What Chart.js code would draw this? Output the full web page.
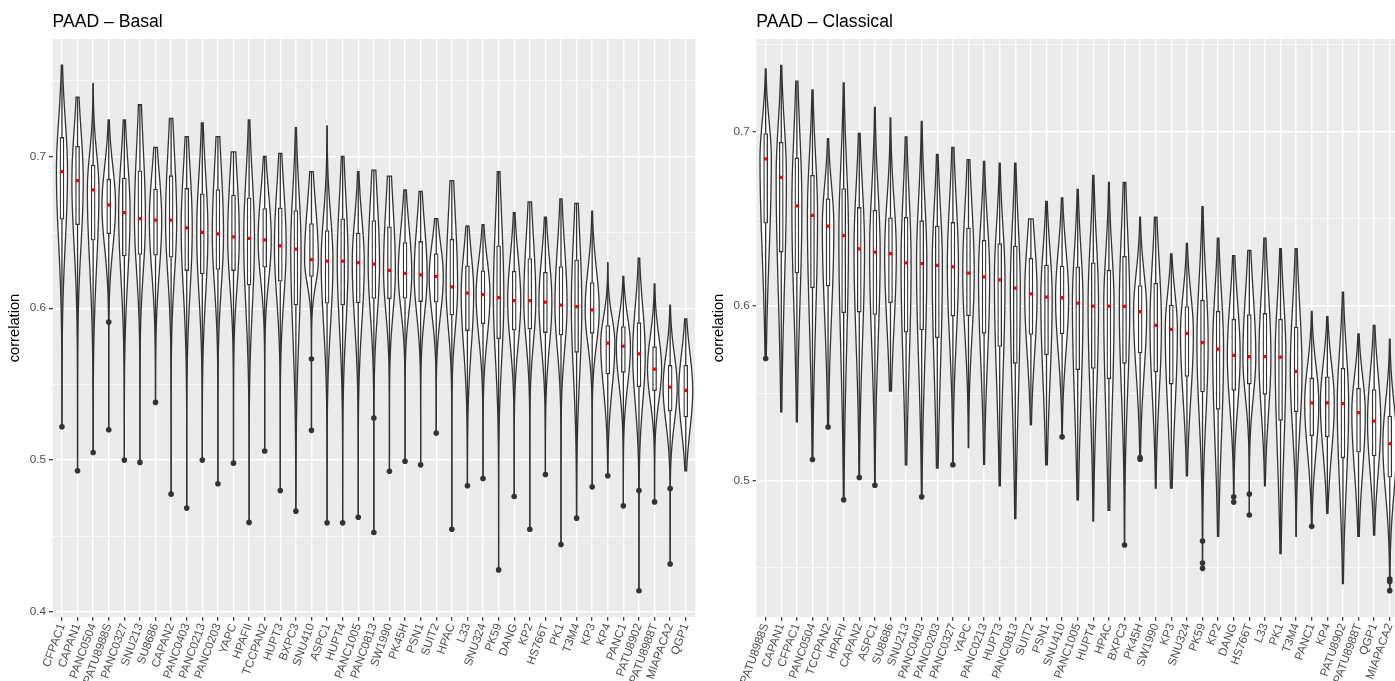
<!DOCTYPE html>
<html>
<head>
<meta charset="utf-8">
<script src="https://cdn.jsdelivr.net/npm/chart.js@4.4.1/dist/chart.umd.min.js"></script>
<style>
  html, body { margin: 0; padding: 0; background: #fff; width: 1395px; height: 681px; overflow: hidden; position: relative; }
  canvas { position: absolute; top: 0; }
  #basalChart { left: 0; }
  #classicalChart { left: 704px; }
</style>
</head>
<body>
<canvas id="basalChart" width="700" height="681"></canvas>
<canvas id="classicalChart" width="700" height="681"></canvas>
<script>
// y 축 눈금
const yTicks = [0.4, 0.45, 0.5, 0.55, 0.6, 0.65, 0.7, 0.75];
const yTickLabels = ['0.4', '', '0.5', '', '0.6', '', '0.7', ''];

// PAAD - Basal
const basalLabels = ['CFPAC1','CAPAN1','PANC0504','PATU8988S','PANC0327','SNU213','SU8686','CAPAN2','PANC0403','PANC0213','PANC0203','YAPC','HPAFII','TCCPAN2','HUPT3','BXPC3','SNU410','ASPC1','HUPT4','PANC1005','PANC0813','SW1990','PK45H','PSN1','SUIT2','HPAC','L33','SNU324','PK59','DANG','KP2','HS766T','PK1','T3M4','KP3','KP4','PANC1','PATU8902','PATU8988T','MIAPACA2','QGP1'];
const basalMax = [0.760,0.739,0.748,0.724,0.724,0.734,0.706,0.725,0.713,0.722,0.713,0.703,0.724,0.700,0.702,0.719,0.690,0.720,0.700,0.690,0.691,0.687,0.678,0.677,0.659,0.684,0.654,0.655,0.690,0.663,0.670,0.660,0.672,0.669,0.664,0.630,0.621,0.633,0.616,0.602,0.593];
const basalQ3 = [0.7125,0.7066,0.6943,0.685,0.6857,0.6905,0.6785,0.6873,0.6789,0.6754,0.6782,0.6745,0.6727,0.6657,0.6662,0.6644,0.6558,0.6512,0.6589,0.6495,0.6578,0.6536,0.6433,0.644,0.6358,0.6455,0.6279,0.6246,0.6411,0.6244,0.6327,0.6237,0.6275,0.6319,0.6169,0.5886,0.588,0.5905,0.5747,0.5624,0.5624];
const basalMean = [0.690,0.684,0.678,0.668,0.663,0.659,0.658,0.658,0.653,0.650,0.649,0.647,0.646,0.645,0.641,0.639,0.632,0.631,0.631,0.630,0.629,0.625,0.623,0.622,0.621,0.614,0.610,0.609,0.607,0.605,0.605,0.604,0.602,0.601,0.599,0.577,0.575,0.570,0.560,0.548,0.546];
const basalQ1 = [0.6587,0.655,0.6448,0.649,0.6345,0.6354,0.6349,0.6336,0.6248,0.6226,0.6255,0.6248,0.6154,0.627,0.6178,0.6022,0.6209,0.6033,0.6022,0.6035,0.6064,0.6062,0.6066,0.6044,0.604,0.5956,0.5853,0.5899,0.58,0.5855,0.5864,0.584,0.5824,0.571,0.5835,0.5567,0.5578,0.5484,0.5457,0.5323,0.5284];
const basalMin = [0.522,0.493,0.505,0.520,0.500,0.4985,0.538,0.4776,0.4684,0.500,0.4844,0.498,0.459,0.506,0.480,0.4664,0.5196,0.4587,0.4587,0.4624,0.4523,0.4927,0.4993,0.4969,0.5178,0.4545,0.4831,0.4879,0.4277,0.476,0.4545,0.4905,0.4444,0.4618,0.4824,0.4897,0.4699,0.414,0.4725,0.4316,0.493];
const basalOutliers = [[0,0.522],[1,0.493],[2,0.505],[3,0.591],[3,0.520],[4,0.500],[5,0.4985],[6,0.538],[7,0.4776],[8,0.4684],[9,0.500],[10,0.4844],[11,0.498],[12,0.459],[13,0.506],[14,0.480],[15,0.4664],[16,0.5666],[16,0.5196],[17,0.4587],[18,0.4587],[19,0.4624],[20,0.5277],[20,0.4523],[21,0.4927],[22,0.4993],[23,0.4969],[24,0.5178],[25,0.4545],[26,0.4831],[27,0.4879],[28,0.4277],[29,0.476],[30,0.4545],[31,0.4905],[32,0.4444],[33,0.4618],[34,0.4824],[35,0.4897],[36,0.4699],[37,0.480],[37,0.414],[38,0.4725],[39,0.4813],[39,0.4316]];
const basalRange = [0.3967, 0.7773];

// PAAD - Classical
const classicalLabels = ['PATU8988S','CAPAN1','CFPAC1','PANC0504','TCCPAN2','HPAFII','CAPAN2','ASPC1','SU8686','SNU213','PANC0403','PANC0203','PANC0327','YAPC','PANC0213','HUPT3','PANC0813','SUIT2','PSN1','SNU410','PANC1005','HUPT4','HPAC','BXPC3','PK45H','SW1990','KP3','SNU324','PK59','KP2','DANG','HS766T','L33','PK1','T3M4','PANC1','KP4','PATU8902','PATU8988T','QGP1','MIAPACA2'];
const classicalMax = [0.736,0.738,0.729,0.724,0.696,0.728,0.699,0.714,0.708,0.697,0.706,0.687,0.691,0.684,0.683,0.682,0.682,0.650,0.660,0.662,0.667,0.675,0.671,0.671,0.651,0.651,0.630,0.636,0.657,0.639,0.629,0.632,0.639,0.633,0.633,0.597,0.594,0.608,0.584,0.589,0.581];
const classicalQ3 = [0.699,0.694,0.685,0.675,0.6615,0.6674,0.6566,0.6549,0.6507,0.6509,0.649,0.6459,0.648,0.6448,0.6377,0.6358,0.6345,0.6274,0.6236,0.623,0.6225,0.6248,0.6206,0.6286,0.6118,0.6131,0.6006,0.5998,0.6034,0.5971,0.5924,0.5952,0.5958,0.5924,0.588,0.5588,0.5595,0.5643,0.5529,0.5521,0.537];
const classicalMean = [0.6844,0.6739,0.6575,0.652,0.6459,0.6404,0.6328,0.6309,0.6301,0.6248,0.6244,0.6234,0.6225,0.6189,0.6168,0.615,0.6103,0.607,0.6051,0.6048,0.6017,0.600,0.600,0.5998,0.5968,0.589,0.5867,0.5844,0.579,0.5754,0.5718,0.571,0.571,0.5708,0.5626,0.5445,0.5445,0.5441,0.5389,0.534,0.5212];
const classicalQ1 = [0.6476,0.631,0.619,0.6105,0.6116,0.5962,0.5966,0.5952,0.6019,0.5851,0.5863,0.5819,0.5943,0.5945,0.5844,0.5769,0.5672,0.5838,0.5721,0.5842,0.5635,0.5643,0.5584,0.5672,0.5731,0.5622,0.5553,0.5597,0.5508,0.5408,0.5517,0.5553,0.5494,0.5345,0.5395,0.5256,0.525,0.513,0.5162,0.5141,0.5019];
const classicalMin = [0.570,0.5393,0.5336,0.512,0.5307,0.4889,0.5017,0.4973,0.5513,0.509,0.4906,0.5071,0.509,0.5189,0.5092,0.4969,0.4782,0.5319,0.509,0.525,0.4889,0.4767,0.4828,0.463,0.5122,0.4956,0.4956,0.5027,0.4496,0.4679,0.4876,0.4802,0.4969,0.458,0.4679,0.4737,0.4811,0.4408,0.4679,0.4687,0.4368];
const classicalOutliers = [[0,0.570],[3,0.512],[4,0.5307],[5,0.4889],[6,0.5017],[7,0.4973],[10,0.4906],[12,0.509],[19,0.525],[23,0.463],[24,0.5132],[24,0.5122],[28,0.4653],[28,0.4527],[28,0.4496],[30,0.4906],[30,0.4876],[31,0.4922],[31,0.4802],[35,0.4737],[40,0.4435],[40,0.442],[40,0.4368]];
const classicalRange = [0.4217, 0.7532];

const FONT = '"Liberation Sans", Arial, Helvetica, sans-serif';
const DARK = '#333333';

// 바이올린 + 수염 + 배경 + 제목
function violinPlugin(title, st) {
  return {
    id: 'violins',
    beforeDraw(chart) {
      const { ctx, chartArea: a } = chart;
      ctx.save();
      ctx.fillStyle = '#EBEBEB';
      ctx.fillRect(a.left, a.top, a.width, a.height);
      ctx.restore();
    },
    beforeDatasetsDraw(chart) {
      const { ctx, chartArea: a, scales: { x, y } } = chart;
      const unit = x.getPixelForValue(1) - x.getPixelForValue(0);
      ctx.save();
      ctx.beginPath();
      ctx.rect(a.left, a.top, a.width, a.height);
      ctx.clip();
      ctx.lineWidth = 1.3;
      ctx.strokeStyle = DARK;
      ctx.fillStyle = '#fff';
      st.mean.forEach((m, i) => {
        const iqr = st.q3[i] - st.q1[i];
        const half = Math.min(0.9, 0.95 * Math.sqrt(0.03 / iqr)) / 2 * unit;
        const sUp = Math.max((st.q3[i] - m) / 0.674, 0.006);
        const sDn = Math.max((m - st.q1[i]) / 0.674, 0.006);
        const cx = x.getPixelForValue(i);
        const n = 90;
        const pts = [];
        for (let k = 0; k <= n; k++) {
          const v = st.min[i] + (st.max[i] - st.min[i]) * k / n;
          const z = (v - m) / (v >= m ? sUp : sDn);
          pts.push([y.getPixelForValue(v), half * Math.exp(-0.5 * z * z)]);
        }
        ctx.beginPath();
        pts.forEach(([py, w], k) => k ? ctx.lineTo(cx + w, py) : ctx.moveTo(cx + w, py));
        for (let k = n; k >= 0; k--) ctx.lineTo(cx - pts[k][1], pts[k][0]);
        ctx.closePath();
        ctx.fill();
        ctx.stroke();

        ctx.beginPath();
        ctx.moveTo(cx, y.getPixelForValue(st.max[i]));
        ctx.lineTo(cx, y.getPixelForValue(st.q3[i]));
        ctx.moveTo(cx, y.getPixelForValue(st.q1[i]));
        ctx.lineTo(cx, y.getPixelForValue(st.min[i]));
        ctx.stroke();
      });
      ctx.restore();
    },
    afterDraw(chart) {
      const { ctx, chartArea: a } = chart;
      ctx.save();
      ctx.font = '17.6px ' + FONT;
      ctx.fillStyle = '#000';
      ctx.textAlign = 'left';
      ctx.textBaseline = 'alphabetic';
      ctx.fillText(title, a.left, 27);
      ctx.restore();
    }
  };
}

function makeChart(id, title, labels, st, outliers, range, axisWidth, padRight) {
  const labelFor = v => {
    const k = yTicks.findIndex(t => Math.abs(t - v) < 1e-9);
    return k < 0 ? '' : yTickLabels[k];
  };
  const isMajor = v => labelFor(v) !== '';
  const shownTicks = yTicks.filter(v => v >= range[0] && v <= range[1]);
  return new Chart(document.getElementById(id), {
    type: 'scatter',
    data: {
      datasets: [
        {
          label: 'outliers',
          data: outliers.map(([i, v]) => ({ x: i, y: v })),
          pointRadius: 2.8,
          pointBackgroundColor: DARK,
          pointBorderWidth: 0
        },
        {
          label: 'mean',
          data: st.mean.map((v, i) => ({ x: i, y: v })),
          pointStyle: 'rect',
          pointRadius: 2.3,
          pointBackgroundColor: '#FF0000',
          pointBorderWidth: 0
        },
        {
          type: 'bar',
          label: 'box',
          data: st.q1.map((v, i) => ({ x: i, y: [v, st.q3[i]] })),
          backgroundColor: '#FFFFFF',
          borderColor: DARK,
          borderWidth: 1.3,
          borderSkipped: false,
          barThickness: 4
        }
      ]
    },
    options: {
      responsive: false,
      animation: false,
      events: [],
      layout: { padding: { top: 39, right: padRight, bottom: 0, left: 0 } },
      plugins: { legend: { display: false }, tooltip: { enabled: false } },
      scales: {
        x: {
          type: 'linear',
          min: -0.6,
          max: labels.length - 0.4,
          offset: false,
          afterBuildTicks: s => { s.ticks = labels.map((_, i) => ({ value: i })); },
          afterFit: s => { s.height = 64; },
          border: { display: false },
          grid: { color: '#FFFFFF', lineWidth: 1.4, offset: false, tickColor: DARK, tickLength: 3.7, tickWidth: 1.2 },
          ticks: {
            autoSkip: false,
            minRotation: 70,
            maxRotation: 70,
            padding: 1,
            color: '#4D4D4D',
            font: { family: FONT, size: 11.7 },
            callback: v => labels[v]
          }
        },
        y: {
          min: range[0],
          max: range[1],
          afterBuildTicks: s => { s.ticks = shownTicks.map(v => ({ value: v })); },
          afterFit: s => { s.width = axisWidth; },
          border: { display: false },
          grid: {
            color: '#FFFFFF',
            lineWidth: c => isMajor(c.tick.value) ? 1.4 : 0.7,
            tickColor: c => isMajor(c.tick.value) ? DARK : 'rgba(0,0,0,0)',
            tickLength: 3.7,
            tickWidth: 1.2
          },
          ticks: {
            padding: 2.9,
            color: '#4D4D4D',
            font: { family: FONT, size: 11.7 },
            callback: v => labelFor(v)
          },
          title: {
            display: true,
            text: 'correlation',
            color: '#000',
            font: { family: FONT, size: 14.7 },
            padding: { top: 6, bottom: 0 }
          }
        }
      }
    },
    plugins: [violinPlugin(title, st)]
  });
}

makeChart('basalChart', 'PAAD \u2013 Basal', basalLabels,
  { max: basalMax, q3: basalQ3, mean: basalMean, q1: basalQ1, min: basalMin },
  basalOutliers, basalRange, 52.6, 3.3);

makeChart('classicalChart', 'PAAD \u2013 Classical', classicalLabels,
  { max: classicalMax, q3: classicalQ3, mean: classicalMean, q1: classicalQ1, min: classicalMin },
  classicalOutliers, classicalRange, 52.3, 2);
</script>
</body>
</html>
